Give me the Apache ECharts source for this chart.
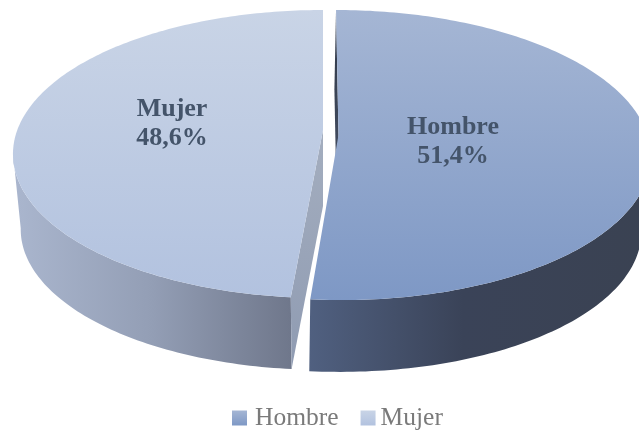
<!DOCTYPE html>
<html>
<head>
<meta charset="utf-8">
<style>html,body{margin:0;padding:0;background:#fff}#c{width:639px;height:430px}</style>
<script src="https://cdn.jsdelivr.net/npm/echarts@6/dist/echarts.min.js"></script>
</head>
<body>
<div id="c"></div>
<script>
const categories = ['Hombre', 'Mujer'];
const values = [51.4, 48.6];

const styles = {
  Hombre: {
    apex: [338.5, 135], A: 309, B: 142.25, k: 0.138, S: -2.8,
    lowApex: [336.8, 211], scale: 0.975,
    top: ['#a5b6d4', '#7e98c5'],
    side: [[0, '#506080'], [0.45, '#3a4358'], [1, '#3a4252']],
    wall: ['#2f3747', '#4a5468'],
    label: [453, 142], legendPad: 3
  },
  Mujer: {
    apex: [323, 130], A: 305.7, B: 140, k: 0.1667, S: 0,
    lowApex: [323, 206], scale: 0.975,
    top: ['#c9d4e6', '#b2c2df'],
    side: [[0, '#aab6ce'], [0.5, '#939eb5'], [1, '#6f778b']],
    wall: ['#a4aebf', '#8f9bb2'],
    label: [172, 124], legendPad: 0
  }
};

function rimPoint(s, theta, center, scale) {
  const u = Math.sin(theta), v = Math.cos(theta), w = 1 + s.k * v;
  return [
    center[0] + scale * (s.A * u + s.S * v) / w,
    center[1] - scale * s.B * v / w
  ];
}

function grad(x2, y2, stops) {
  return new echarts.graphic.LinearGradient(0, 0, x2, y2,
    stops.map(st => ({ offset: st[0], color: st[1] })));
}
function grad2(pair) {
  return grad(0, 1, [[0, pair[0]], [1, pair[1]]]);
}

function renderSlice(name, idx) {
  return function (params, api) {
    const s = styles[name];
    const total = values.reduce((a, b) => a + b, 0);
    const before = values.slice(0, idx).reduce((a, b) => a + b, 0);
    const val = api.value(0);
    const a0 = before / total * Math.PI * 2;
    const a1 = (before + val) / total * Math.PI * 2;
    const n = 180, topRim = [], lowRim = [];
    for (let i = 0; i <= n; i++) {
      const t = a0 + (a1 - a0) * i / n;
      topRim.push(rimPoint(s, t, s.apex, 1));
      lowRim.push(rimPoint(s, t, s.lowApex, s.scale));
    }
    // silhouette: the rim point farthest out horizontally
    let ext = 0;
    topRim.forEach((p, i) => {
      if (Math.abs(p[0] - s.apex[0]) > Math.abs(topRim[ext][0] - s.apex[0])) ext = i;
    });
    // the part of the rim that faces the viewer runs from the silhouette to the bottom
    const lo = idx === 0 ? ext : 0, hi = idx === 0 ? n : ext;
    const sidePts = topRim.slice(lo, hi + 1).concat(lowRim.slice(lo, hi + 1).reverse());
    const wallPts = [topRim[0], s.apex, s.lowApex, lowRim[0]];
    const surface = [s.apex].concat(topRim);
    const txt = name + '\n' + val.toFixed(1).replace('.', ',') + '%';
    return {
      type: 'group',
      children: [
        { type: 'polygon', shape: { points: sidePts }, style: { fill: grad(1, 0, s.side) } },
        { type: 'polygon', shape: { points: wallPts }, style: { fill: grad2(s.wall) } },
        { type: 'polygon', shape: { points: surface }, style: { fill: grad2(s.top) } },
        { type: 'text', style: {
            text: txt, x: s.label[0], y: s.label[1], align: 'center', verticalAlign: 'middle',
            font: 'bold 26px "Liberation Serif"', lineHeight: 29, fill: '#44546a' } }
      ]
    };
  };
}

const chart = echarts.init(document.getElementById('c'), null, { renderer: 'canvas' });
chart.setOption({
  animation: false,
  backgroundColor: '#ffffff',
  legend: {
    data: categories.map(name => ({
      name: name,
      textStyle: { padding: [0, 0, 0, styles[name].legendPad] }
    })),
    left: 232, top: 405,
    itemWidth: 15, itemHeight: 15, itemGap: 22, padding: 0,
    icon: 'rect',
    textStyle: { fontFamily: 'Liberation Serif', fontSize: 25.5, color: '#7a7a7a' }
  },
  series: categories.map((name, i) => ({
    type: 'custom',
    name: name,
    coordinateSystem: 'none',
    clip: false,
    itemStyle: { color: grad2(styles[name].top) },
    data: [[values[i]]],
    renderItem: renderSlice(name, i)
  }))
});
</script>
</body>
</html>
